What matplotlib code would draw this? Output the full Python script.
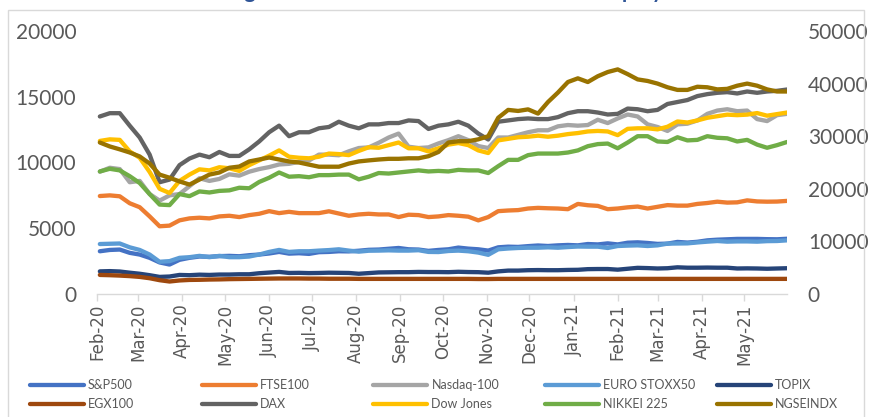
import matplotlib
matplotlib.use("Agg")
import matplotlib.pyplot as plt
import matplotlib.dates as mdates
import pandas as pd
from matplotlib.lines import Line2D
from matplotlib.patches import Rectangle

# ---------------- data (weekly readings) ----------------
dates = pd.date_range("2020-02-03", periods=70, freq="7D")

sp500 = [3250, 3350, 3380, 3130, 3000, 2750, 2400, 2240, 2600, 2750,
         2850, 2830, 2880, 2900, 2870, 2950, 3000, 3080, 3200, 3070,
         3100, 3050, 3180, 3200, 3250, 3240, 3290, 3360, 3380, 3440,
         3500, 3400, 3380, 3280, 3350, 3400, 3530, 3450, 3400, 3300,
         3550, 3600, 3580, 3640, 3690, 3650, 3700, 3730, 3700, 3800,
         3770, 3850, 3770, 3900, 3930, 3880, 3810, 3830, 3960, 3910,
         3970, 4080, 4130, 4160, 4190, 4190, 4190, 4170, 4160, 4200]

ftse100 = [7450, 7500, 7430, 6900, 6600, 5900, 5150, 5200, 5600, 5750,
           5800, 5750, 5900, 5950, 5850, 6000, 6100, 6300, 6150, 6250,
           6150, 6150, 6150, 6290, 6120, 5950, 6050, 6100, 6050, 6050,
           5850, 6030, 6000, 5850, 5900, 6000, 5950, 5880, 5600, 5850,
           6300, 6350, 6380, 6500, 6550, 6520, 6500, 6450, 6850, 6750,
           6700, 6450, 6500, 6590, 6650, 6500, 6630, 6760, 6720, 6720,
           6850, 6920, 7020, 6950, 6970, 7120, 7040, 7020, 7030, 7080]

nasdaq100 = [9300, 9600, 9500, 8500, 8600, 7600, 7100, 7500, 7600, 8200,
             8800, 8600, 8750, 9100, 9000, 9300, 9500, 9650, 9850, 9900,
             10050, 10150, 10600, 10600, 10550, 10850, 11100, 11150, 11500, 11900,
             12200, 11200, 11100, 11150, 11450, 11700, 12000, 11700, 11250, 11100,
             11900, 11900, 12100, 12300, 12450, 12450, 12750, 12850, 12800, 12850,
             13250, 13000, 13350, 13650, 13500, 12900, 12700, 12400, 12900, 12950,
             13200, 13700, 13950, 14050, 13900, 13950, 13300, 13150, 13600, 13700]

eurostoxx50 = [3800, 3820, 3840, 3550, 3350, 3000, 2450, 2500, 2750, 2800,
               2900, 2800, 2900, 2800, 2800, 2850, 3000, 3200, 3350, 3200,
               3250, 3250, 3300, 3340, 3400, 3300, 3220, 3290, 3300, 3320,
               3300, 3300, 3330, 3200, 3190, 3270, 3300, 3250, 3150, 2980,
               3400, 3460, 3500, 3520, 3520, 3550, 3520, 3570, 3610, 3600,
               3600, 3500, 3650, 3680, 3700, 3650, 3700, 3830, 3840, 3850,
               3920, 3980, 4030, 3980, 4000, 4000, 3980, 4020, 4030, 4080]

topix = [1720, 1740, 1710, 1620, 1540, 1430, 1300, 1330, 1450, 1430,
         1470, 1450, 1480, 1480, 1500, 1500, 1580, 1630, 1680, 1600,
         1610, 1590, 1600, 1620, 1610, 1600, 1540, 1590, 1640, 1650,
         1660, 1660, 1680, 1670, 1670, 1660, 1690, 1670, 1660, 1620,
         1720, 1780, 1780, 1810, 1820, 1810, 1810, 1830, 1840, 1890,
         1900, 1900, 1850, 1920, 1990, 1970, 1940, 1960, 2030, 2000,
         2000, 2010, 2000, 2000, 1940, 1950, 1940, 1920, 1940, 1960]

egx100 = [1450, 1430, 1400, 1360, 1300, 1200, 1050, 950, 1030, 1070,
          1080, 1100, 1110, 1130, 1140, 1150, 1160, 1170, 1180, 1180,
          1180, 1170, 1170, 1160, 1160, 1160, 1150, 1150, 1150, 1150,
          1150, 1150, 1150, 1150, 1150, 1150, 1150, 1150, 1140, 1140,
          1150, 1150, 1150, 1150, 1150, 1150, 1150, 1150, 1150, 1150,
          1150, 1150, 1150, 1150, 1150, 1150, 1150, 1150, 1150, 1150,
          1150, 1150, 1150, 1150, 1150, 1150, 1150, 1150, 1150, 1150]

dax = [13500, 13750, 13750, 12800, 11900, 10600, 8500, 8700, 9800, 10300,
       10600, 10400, 10800, 10500, 10500, 11000, 11600, 12300, 12800, 12000,
       12300, 12300, 12600, 12700, 13100, 12800, 12600, 12900, 12900, 13000,
       13000, 13200, 13150, 12550, 12800, 12900, 13100, 12800, 12200, 11750,
       13100, 13200, 13300, 13350, 13300, 13300, 13450, 13750, 13900, 13900,
       13800, 13650, 13700, 14100, 14050, 13900, 14000, 14450, 14600, 14750,
       15050, 15200, 15300, 15350, 15250, 15400, 15300, 15400, 15450, 15550]

dowjones = [29100, 29400, 29300, 27100, 25900, 23200, 20000, 19200, 21500, 22700,
            23700, 23500, 24100, 23900, 23400, 24500, 25400, 26300, 27300, 26100,
            25900, 25800, 26100, 26700, 26600, 26400, 27200, 27900, 27800, 28300,
            28800, 27700, 27700, 27100, 27700, 28400, 28700, 28300, 27300, 26800,
            29200, 29500, 29800, 29900, 30100, 29900, 30100, 30400, 30600, 30900,
            31000, 30900, 30200, 31400, 31500, 31500, 31300, 31800, 32800, 32600,
            33000, 33500, 33800, 34100, 34000, 34100, 34400, 33900, 34200, 34500]

nikkei225 = [23300, 23800, 23500, 22400, 21100, 19000, 17000, 16900, 19000, 18600,
             19500, 19300, 19600, 19700, 20200, 20100, 21300, 22100, 23100, 22300,
             22400, 22200, 22600, 22600, 22700, 22700, 21800, 22300, 23000, 22900,
             23100, 23300, 23500, 23300, 23400, 23300, 23600, 23500, 23500, 23000,
             24300, 25500, 25500, 26400, 26700, 26700, 26700, 26900, 27300, 28100,
             28500, 28600, 27700, 28800, 30000, 30000, 29000, 28900, 29800, 29200,
             29300, 30000, 29700, 29600, 29000, 29300, 28400, 27800, 28300, 28900]

ngseindx = [28800, 28050, 27500, 26900, 26150, 24800, 22700, 22100, 21400, 20800,
            21750, 22700, 23100, 24000, 24230, 25200, 25570, 25950, 25570, 25200,
            25000, 24600, 24200, 24200, 24200, 24800, 25200, 25400, 25570, 25700,
            25700, 25800, 25800, 26200, 27000, 28800, 29050, 29050, 29400, 30000,
            33500, 35000, 34800, 35100, 34300, 36500, 38300, 40300, 41000, 40300,
            41400, 42200, 42700, 41800, 40800, 40500, 40000, 39300, 38800, 38800,
            39400, 39300, 38900, 39000, 39600, 40000, 39600, 38900, 38500, 38500]

left_series = [("S&P500", sp500, "#4472C4"),
               ("FTSE100", ftse100, "#ED7D31"),
               ("Nasdaq-100", nasdaq100, "#A5A5A5"),
               ("EURO STOXX50", eurostoxx50, "#5B9BD5"),
               ("TOPIX", topix, "#264478"),
               ("EGX100", egx100, "#9E480E"),
               ("DAX", dax, "#636363")]
right_series = [("Dow Jones", dowjones, "#FFC000"),
                ("NIKKEI 225", nikkei225, "#70AD47"),
                ("NGSEINDX", ngseindx, "#997300")]

left_ticks = [0, 5000, 10000, 15000, 20000]
right_ticks = [0, 10000, 20000, 30000, 40000, 50000]
title_text = "Trends in global benchmark indices and the NSE equity index"

# ---------------- figure ----------------
W, H = 872, 417
fig = plt.figure(figsize=(W / 100, H / 100), dpi=100)
fig.patch.set_facecolor("white")

ax = fig.add_axes([97 / W, 1 - 294 / H, (787 - 97) / W, (294 - 31) / H])
ax2 = ax.twinx()

LW = 3.1
for name, vals, col in left_series:
    ax.plot(dates, vals, color=col, lw=LW, solid_joinstyle="round",
            solid_capstyle="round")
for name, vals, col in right_series:
    ax2.plot(dates, vals, color=col, lw=LW, solid_joinstyle="round",
             solid_capstyle="round")

ax.set_xlim(pd.Timestamp("2020-02-01"), pd.Timestamp("2021-05-31"))
ax.set_ylim(0, 20000)
ax2.set_ylim(0, 50000)
ax.set_yticks(left_ticks)
ax2.set_yticks(right_ticks)

ax.xaxis.set_major_locator(mdates.MonthLocator())
ax.xaxis.set_major_formatter(mdates.DateFormatter("%b-%y"))

for a in (ax, ax2):
    for s in a.spines.values():
        s.set_visible(False)
ax.spines["bottom"].set_visible(True)
ax.spines["bottom"].set_color("#D9D9D9")
ax.spines["bottom"].set_linewidth(1.0)

ax.tick_params(axis="x", direction="out", length=5, width=1, color="#D9D9D9",
               labelcolor="#595959", labelsize=12, pad=2, labelrotation=90)
for lab in ax.get_xticklabels():
    lab.set_family("DejaVu Sans")
ax.tick_params(axis="y", length=0, pad=15, labelcolor="#595959")
ax2.tick_params(axis="y", length=0, pad=15, labelcolor="#595959")
for lab in ax.get_yticklabels() + ax2.get_yticklabels():
    lab.set_family("Lato")
    lab.set_fontsize(15)

# chart-area border
fig.add_artist(Rectangle((8 / W, -0.05), (864 - 8) / W, 1 - 10 / H + 0.05,
                         transform=fig.transFigure, fill=False,
                         edgecolor="#D9D9D9", lw=1.0))

# title (mostly cut off at the top edge)
fig.text(0.5, 1 + 2 / H, title_text, ha="center", va="baseline",
         fontsize=15, fontweight="bold", color="#2F5597", family="Lato")

# legend, row-major 2 x 5
all_series = left_series[:5] + [left_series[5], left_series[6]] + right_series
order = ["S&P500", "FTSE100", "Nasdaq-100", "EURO STOXX50", "TOPIX",
         "EGX100", "DAX", "Dow Jones", "NIKKEI 225", "NGSEINDX"]
lookup = {n: c for n, v, c in left_series + right_series}
for i, name in enumerate(order):
    row, colx = divmod(i, 5)
    x0 = 30 + 171.7 * colx
    y0 = 385 + 19 * row
    fig.add_artist(Line2D([x0 / W, (x0 + 54) / W], [1 - y0 / H, 1 - y0 / H],
                          transform=fig.transFigure, color=lookup[name],
                          lw=LW, solid_capstyle="round"))
    fig.text((x0 + 58) / W, 1 - y0 / H, name, ha="left", va="center",
             fontsize=9, color="#595959", family="Lato")

fig.savefig("out.png", dpi=100, facecolor="white")
